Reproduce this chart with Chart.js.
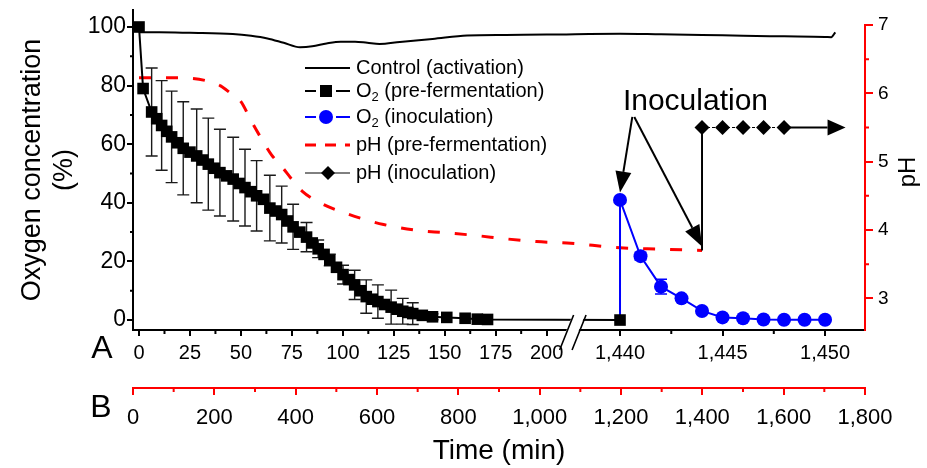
<!DOCTYPE html>
<html>
<head>
<meta charset="utf-8">
<script src="https://cdn.jsdelivr.net/npm/chart.js@4.4.1/dist/chart.umd.min.js"></script>
<style>
  html, body { margin: 0; padding: 0; background: #fff; }
  #wrap { width: 927px; height: 468px; }
</style>
</head>
<body>
<div id="wrap"><canvas id="chart"></canvas></div>
<script>
// axis A is broken: 0-210 min at normal scale, then 1,440-1,452 min drawn ~10x wider
const timeTicksA = [0, 25, 50, 75, 100, 125, 150, 175, 200, 1440, 1445, 1450];
const timeMinorA = [12.5, 37.5, 62.5, 87.5, 112.5, 137.5, 162.5, 187.5, 1442.5, 1447.5];
const timeTicksB = [0, 200, 400, 600, 800, 1000, 1200, 1400, 1600, 1800];
const timeMinorB = [100, 300, 500, 700, 900, 1100, 1300, 1500, 1700];
const o2Ticks = [0, 20, 40, 60, 80, 100];
const o2Minor = [10, 30, 50, 70, 90];
const phTicks = [3, 4, 5, 6, 7];
const phMinor = [3.5, 4.5, 5.5, 6.5];

const controlTime = [0, 10, 25, 46, 55, 63, 71, 79, 85, 92, 99, 106, 112, 118, 128, 144, 161, 180, 200, 1440, 1442, 1444, 1446, 1448, 1450, 1450.3, 1450.5];
const controlO2 = [98.2, 98.2, 98.0, 97.6, 97.0, 96.1, 94.6, 93.1, 93.4, 94.4, 95.0, 95.0, 94.6, 94.2, 94.9, 95.9, 97.1, 97.3, 97.4, 97.7, 97.5, 97.3, 97.0, 96.8, 96.6, 96.5, 98.2];

const o2PreTime = [0, 2, 6.2, 8.7, 11.1, 13.6, 16.0, 18.9, 21.7, 25.0, 28.3, 31.2, 34.0, 36.9, 39.7, 43.0, 46.2, 49.1, 52.0, 54.9,
  57.7, 61.0, 64.2, 67.1, 70.0, 72.8, 75.6, 78.9, 82.2, 85.0, 87.9, 90.8, 93.6, 96.9, 100.1, 103.0, 105.8, 108.7, 111.5, 114.4,
  117.2, 120.5, 123.7, 126.6, 129.4, 131.9, 134.3, 139, 144, 151, 160, 166, 171, 1440];
const o2PreMean = [100, 79, 71, 68.7, 66.4, 64.4, 62.5, 60.5, 58.6, 57.3, 56, 54.6, 53.2, 51.8, 50.3, 49.2, 48.1, 46.6, 45.2, 43.8,
  42.4, 41.2, 38.2, 37.2, 36, 33.8, 31.8, 30, 28.3, 26.3, 24.3, 22.4, 20.5, 18, 15.5, 13.8, 12, 10, 8, 7.1,
  6.3, 5.3, 4.4, 3.7, 3.0, 2.6, 2.2, 1.6, 1.1, 0.9, 0.6, 0.3, 0.2, 0];
const o2PreErr = [0, 0, 15, 0, 15.3, 0, 15.6, 0, 15.9, 0, 16, 0, 15.7, 0, 14.8, 0, 14.3, 0, 13.1, 0,
  12, 0, 11.2, 0, 9.7, 0, 7.7, 0, 5, 0, 3, 0, 2, 0, 3.2, 0, 5, 0, 5.7, 0,
  5.7, 0, 5.8, 0, 4.4, 0, 3.7, 0, 1, 0, 0, 0, 0, 0];

const o2InocTime = [1440, 1440, 1441, 1442, 1443, 1444, 1445, 1446, 1447, 1448, 1449, 1450];
const o2InocMean = [0, 41, 21.8, 11.4, 7.4, 3.1, 0.9, 0.6, 0.2, 0.1, 0.1, 0.1];
const o2InocErr = [0, 0, 1.3, 2.5, 0, 0, 0, 0, 0, 0, 0, 0];

const phPreTime = [0, 10, 25, 35, 40, 45, 50, 55, 60, 65, 70, 75, 80, 90, 100, 110, 120, 135, 150, 165, 180, 195, 210, 1440, 1442, 1444];
const phPreValue = [6.23, 6.23, 6.22, 6.17, 6.11, 6.0, 5.88, 5.6, 5.34, 5.1, 4.93, 4.74, 4.57, 4.38, 4.26, 4.16, 4.08, 4.0, 3.96, 3.92, 3.87, 3.83, 3.81, 3.74, 3.72, 3.70];

const phInocTime = [1444, 1444, 1445, 1446, 1447, 1448];
const phInocValue = [3.70, 5.5, 5.5, 5.5, 5.5, 5.5];

const FONT = "'Liberation Sans', Arial, sans-serif";
const SECOND_START = 236;   // axis position of 1,440 min
const STRETCH = 10.06;      // second part of the axis is drawn this much wider

function toAxis(t) { return t < 1000 ? t : SECOND_START + (t - 1440) * STRETCH; }
function fromAxis(v) { return v < 220 ? v : 1440 + (v - SECOND_START) / STRETCH; }
function points(times, values) { return times.map((t, i) => ({ x: toAxis(t), y: values[i] })); }

function fixSize(w, h) {
  return s => {
    if (w) s.width = w;
    if (h) s.height = h;
    s.paddingLeft = s.paddingRight = s.paddingTop = s.paddingBottom = 0;
  };
}

function drawErrorBars(chart, index, errors, color) {
  const meta = chart.getDatasetMeta(index);
  const yScale = chart.scales[meta.yAxisID];
  const data = chart.data.datasets[index].data;
  const ctx = chart.ctx;
  ctx.save();
  ctx.strokeStyle = color;
  ctx.lineWidth = 1.4;
  meta.data.forEach((pt, i) => {
    const e = errors[i];
    if (!e) return;
    const top = yScale.getPixelForValue(data[i].y + e);
    const bot = yScale.getPixelForValue(data[i].y - e);
    ctx.beginPath();
    ctx.moveTo(pt.x, top); ctx.lineTo(pt.x, bot);
    ctx.moveTo(pt.x - 6, top); ctx.lineTo(pt.x + 6, top);
    ctx.moveTo(pt.x - 6, bot); ctx.lineTo(pt.x + 6, bot);
    ctx.stroke();
  });
  ctx.restore();
}

function arrow(ctx, x0, y0, x1, y1, len, half) {
  const a = Math.atan2(y1 - y0, x1 - x0);
  const bx = x1 - Math.cos(a) * len, by = y1 - Math.sin(a) * len;
  ctx.beginPath();
  ctx.moveTo(x0, y0); ctx.lineTo(bx, by);
  ctx.stroke();
  ctx.beginPath();
  ctx.moveTo(x1, y1);
  ctx.lineTo(bx + Math.sin(a) * half, by - Math.cos(a) * half);
  ctx.lineTo(bx - Math.sin(a) * half, by + Math.cos(a) * half);
  ctx.closePath();
  ctx.fill();
}

function o2Text(ctx, x, y, rest) {
  ctx.font = '20px ' + FONT;
  ctx.fillText('O', x, y);
  let w = ctx.measureText('O').width;
  ctx.font = '13px ' + FONT;
  ctx.fillText('2', x + w, y + 6);
  w += ctx.measureText('2').width;
  ctx.font = '20px ' + FONT;
  ctx.fillText(rest, x + w, y);
}

const extras = {
  id: 'extras',
  beforeDatasetsDraw(chart) {
    drawErrorBars(chart, 0, o2PreErr, '#1a1a1a');
    drawErrorBars(chart, 1, o2InocErr, '#0000ff');
  },
  afterDraw(chart) {
    const ctx = chart.ctx;
    const { x, x2, y, y2 } = chart.scales;
    const area = chart.chartArea;
    ctx.save();

    // minor ticks
    ctx.lineWidth = 2;
    ctx.strokeStyle = '#000';
    ctx.beginPath();
    o2Minor.forEach(m => { const p = y.getPixelForValue(m); ctx.moveTo(area.left - 3, p); ctx.lineTo(area.left, p); });
    timeMinorA.forEach(m => { const p = x.getPixelForValue(toAxis(m)); ctx.moveTo(p, area.bottom); ctx.lineTo(p, area.bottom + 4); });
    ctx.stroke();
    ctx.strokeStyle = '#ff0000';
    ctx.beginPath();
    phMinor.forEach(m => { const p = y2.getPixelForValue(m); ctx.moveTo(area.right, p); ctx.lineTo(area.right + 4, p); });
    timeMinorB.forEach(m => { const p = x2.getPixelForValue(m); ctx.moveTo(p, x2.top); ctx.lineTo(p, x2.top + 4); });
    ctx.stroke();

    // red pH axis line, only up to 7
    ctx.beginPath();
    ctx.moveTo(area.right, y2.getPixelForValue(7) - 1);
    ctx.lineTo(area.right, area.bottom + 1);
    ctx.stroke();

    // pH title, read bottom to top
    ctx.save();
    ctx.translate(915, (area.top + area.bottom) / 2 + 2);
    ctx.rotate(-Math.PI / 2);
    ctx.fillStyle = '#000';
    ctx.font = '24px ' + FONT;
    ctx.textAlign = 'center';
    ctx.textBaseline = 'alphabetic';
    ctx.fillText('pH', 0, 0);
    ctx.restore();

    // axis break
    const b1 = x.getPixelForValue(209.8), b2 = x.getPixelForValue(215.9);
    const yb = area.bottom;
    ctx.fillStyle = '#fff';
    ctx.beginPath();
    ctx.moveTo(b1 + 7 - 0.4 * 2.5, yb - 15);
    ctx.lineTo(b2 + 7 - 0.4 * 2.5, yb - 15);
    ctx.lineTo(b2 + 7 - 0.4 * 23.5, yb + 6);
    ctx.lineTo(b1 + 7 - 0.4 * 23.5, yb + 6);
    ctx.closePath();
    ctx.fill();
    ctx.strokeStyle = '#000';
    ctx.lineWidth = 1.6;
    ctx.beginPath();
    [b1, b2].forEach(b => { ctx.moveTo(b - 7, yb + 20); ctx.lineTo(b + 7, yb - 15); });
    ctx.stroke();

    // A / B labels
    ctx.fillStyle = '#000';
    ctx.font = '32px ' + FONT;
    ctx.textAlign = 'center';
    ctx.textBaseline = 'middle';
    ctx.fillText('A', 102, area.bottom + 19);
    ctx.fillText('B', 101, x2.top + 20);

    // legend
    const rows = [68, 91, 117, 145, 173];
    const lx0 = 305, lx1 = 350, lc = 326, tx = 356;
    ctx.textAlign = 'left';
    ctx.lineWidth = 2;
    ctx.strokeStyle = '#000';
    ctx.beginPath(); ctx.moveTo(lx0, rows[0]); ctx.lineTo(lx1, rows[0]); ctx.stroke();
    ctx.beginPath(); ctx.moveTo(lx0, rows[1]); ctx.lineTo(lc - 10, rows[1]); ctx.moveTo(lc + 10, rows[1]); ctx.lineTo(lx1, rows[1]); ctx.stroke();
    ctx.fillRect(lc - 6, rows[1] - 6, 12, 12);
    ctx.strokeStyle = '#0000ff'; ctx.fillStyle = '#0000ff';
    ctx.beginPath(); ctx.moveTo(lx0, rows[2]); ctx.lineTo(lc - 10, rows[2]); ctx.moveTo(lc + 10, rows[2]); ctx.lineTo(lx1, rows[2]); ctx.stroke();
    ctx.beginPath(); ctx.arc(lc, rows[2], 7, 0, Math.PI * 2); ctx.fill();
    ctx.strokeStyle = '#ff0000'; ctx.lineWidth = 3;
    ctx.setLineDash([11, 9]);
    ctx.beginPath(); ctx.moveTo(lx0, rows[3]); ctx.lineTo(lx1, rows[3]); ctx.stroke();
    ctx.setLineDash([]);
    ctx.strokeStyle = '#000'; ctx.fillStyle = '#000'; ctx.lineWidth = 1;
    ctx.beginPath(); ctx.moveTo(lx0, rows[4]); ctx.lineTo(lx1, rows[4]); ctx.stroke();
    ctx.beginPath();
    ctx.moveTo(lc + 2 - 7, rows[4]); ctx.lineTo(lc + 2, rows[4] - 7); ctx.lineTo(lc + 2 + 7, rows[4]); ctx.lineTo(lc + 2, rows[4] + 7);
    ctx.closePath(); ctx.fill();

    ctx.font = '20px ' + FONT;
    ctx.fillText('Control (activation)', tx, rows[0]);
    o2Text(ctx, tx, rows[1], ' (pre-fermentation)');
    o2Text(ctx, tx, rows[2], ' (inoculation)');
    ctx.font = '20px ' + FONT;
    ctx.fillText('pH (pre-fermentation)', tx, rows[3]);
    ctx.fillText('pH (inoculation)', tx, rows[4]);

    // inoculation annotation
    ctx.font = '30px ' + FONT;
    ctx.textAlign = 'center';
    ctx.textBaseline = 'alphabetic';
    ctx.fillText('Inoculation', x.getPixelForValue(toAxis(1443.68)), y.getPixelForValue(71.7));
    ctx.lineWidth = 2;
    const sx = x.getPixelForValue(toAxis(1440.6)), sy = y.getPixelForValue(69.3);
    arrow(ctx, sx, sy, x.getPixelForValue(toAxis(1440)), y.getPixelForValue(43.5), 21, 8);
    arrow(ctx, sx + 2, sy, x.getPixelForValue(toAxis(1444)), y2.getPixelForValue(3.76), 21, 8);
    const last = phInocTime.length - 1;
    arrow(ctx, x.getPixelForValue(toAxis(phInocTime[last])), y2.getPixelForValue(phInocValue[last]),
      x.getPixelForValue(toAxis(1451)), y2.getPixelForValue(phInocValue[last]), 18, 8);

    ctx.restore();
  }
};

Chart.defaults.font.family = FONT;
Chart.defaults.color = '#000';

new Chart(document.getElementById('chart'), {
  type: 'line',
  data: {
    datasets: [
      {
        label: 'O2 (pre-fermentation)',
        data: points(o2PreTime, o2PreMean),
        borderColor: '#000',
        backgroundColor: '#000',
        borderWidth: 2,
        pointStyle: 'rect',
        pointRadius: 8.2,
        pointBorderWidth: 0,
        yAxisID: 'y'
      },
      {
        label: 'O2 (inoculation)',
        data: points(o2InocTime, o2InocMean),
        borderColor: '#0000ff',
        backgroundColor: '#0000ff',
        borderWidth: 2,
        pointRadius: o2InocTime.map((t, i) => (i === 0 ? 0 : 7)),
        pointBorderWidth: 0,
        yAxisID: 'y'
      },
      {
        label: 'pH (inoculation)',
        data: points(phInocTime, phInocValue),
        borderColor: '#000',
        backgroundColor: '#000',
        borderWidth: 1,
        segment: {
          borderWidth: c => (c.p0DataIndex === 0 ? 2 : 1),
          borderDash: c => (c.p0DataIndex === 0 ? [] : [3, 2])
        },
        pointStyle: 'rectRot',
        pointRadius: phInocTime.map((t, i) => (i === 0 ? 0 : 7.5)),
        pointBorderWidth: 0,
        yAxisID: 'y2'
      },
      {
        label: 'pH (pre-fermentation)',
        data: points(phPreTime, phPreValue),
        borderColor: '#ff0000',
        borderWidth: 3,
        borderDash: [12, 15],
        cubicInterpolationMode: 'monotone',
        pointRadius: 0,
        yAxisID: 'y2'
      },
      {
        label: 'Control (activation)',
        data: points(controlTime, controlO2),
        borderColor: '#000',
        borderWidth: 2,
        cubicInterpolationMode: 'monotone',
        pointRadius: 0,
        yAxisID: 'y'
      }
    ]
  },
  options: {
    responsive: true,
    maintainAspectRatio: false,
    animation: false,
    devicePixelRatio: 1,
    layout: { padding: { top: 10, left: 0, right: 0, bottom: 0 } },
    plugins: { legend: { display: false }, tooltip: { enabled: false } },
    scales: {
      x: {
        type: 'linear',
        position: 'bottom',
        weight: 0,
        min: -2.95,
        max: 356.2,
        afterBuildTicks: s => { s.ticks = timeTicksA.map(t => ({ value: toAxis(t) })); },
        afterFit: fixSize(0, 58),
        grid: { drawOnChartArea: false, color: '#000', lineWidth: 2, tickLength: 6 },
        border: { color: '#000', width: 2 },
        ticks: {
          autoSkip: false, maxRotation: 0, padding: 5,
          font: { size: 20 },
          callback: v => Math.round(fromAxis(v)).toLocaleString('en-US')
        }
      },
      x2: {
        type: 'linear',
        position: 'bottom',
        weight: 1,
        min: 0,
        max: 1800,
        afterBuildTicks: s => { s.ticks = timeTicksB.map(t => ({ value: t })); },
        afterFit: fixSize(0, 80),
        grid: { drawOnChartArea: false, color: '#ff0000', lineWidth: 2, tickLength: 7 },
        border: { color: '#ff0000', width: 2 },
        ticks: {
          autoSkip: false, maxRotation: 0, padding: 10,
          font: { size: 22 },
          callback: v => v.toLocaleString('en-US')
        },
        title: { display: true, text: 'Time (min)', font: { size: 28 }, padding: { top: 0, bottom: 0 } }
      },
      y: {
        type: 'linear',
        position: 'left',
        min: -3.4,
        max: 105.8,
        afterBuildTicks: s => { s.ticks = o2Ticks.map(t => ({ value: t })); },
        afterFit: fixSize(133, 0),
        grid: { drawOnChartArea: false, color: '#000', lineWidth: 2, tickLength: 6 },
        border: { color: '#000', width: 2 },
        ticks: { padding: 1, font: { size: 23 } },
        title: {
          display: true,
          text: ['Oxygen concentration', '(%)'],
          font: { size: 27 },
          padding: { top: 16, bottom: 0 }
        }
      },
      y2: {
        type: 'linear',
        position: 'right',
        min: 2.536,
        max: 7.22,
        afterBuildTicks: s => { s.ticks = phTicks.map(t => ({ value: t })); },
        afterFit: fixSize(62, 0),
        grid: { drawOnChartArea: false, color: '#ff0000', lineWidth: 2, tickLength: 8 },
        border: { display: false },
        ticks: { padding: 5, font: { size: 19 } }
      }
    }
  },
  plugins: [extras]
});
</script>
</body>
</html>
